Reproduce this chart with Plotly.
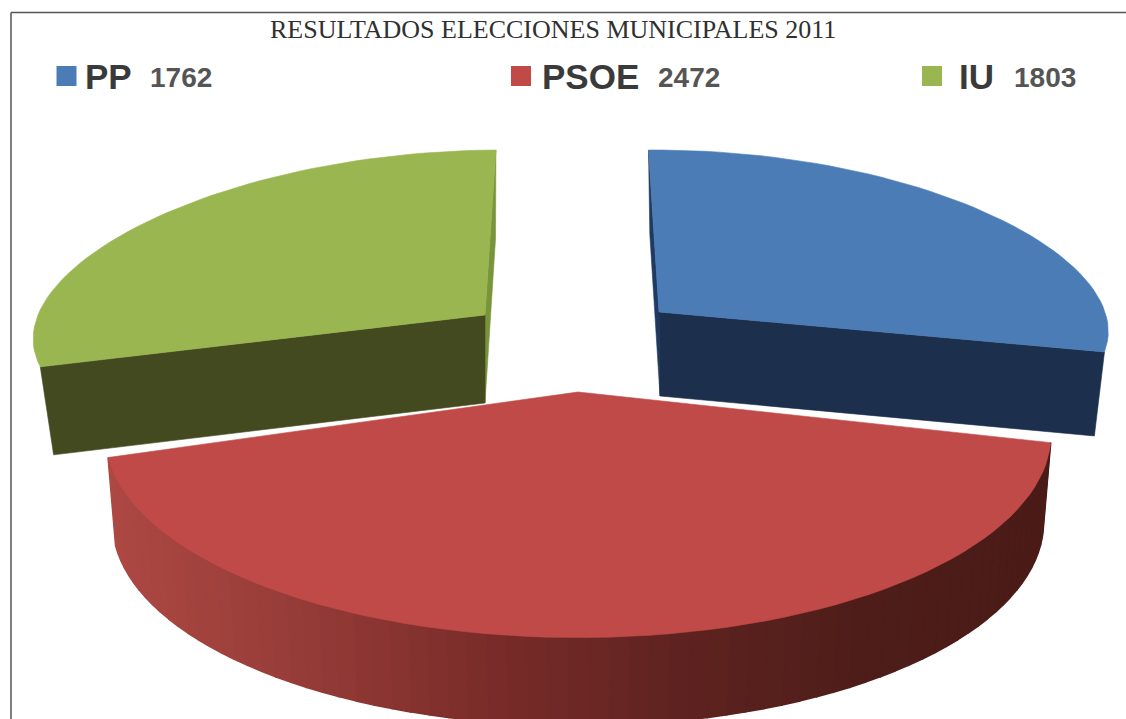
import math
import plotly.graph_objects as go

title = "RESULTADOS ELECCIONES MUNICIPALES 2011"
parties = ["PP", "PSOE", "IU"]
votes = [1762, 2472, 1803]
top_colors = ["#4c7cb6", "#bf4a47", "#9ab650"]
side_colors = ["#1c2f4c", None, "#444a20"]
inner_colors = ["#1f3a62", None, "#78953c"]
red_side_stops = ["#ad4843", "#963c38", "#7a2c29", "#5f2320", "#4e1d19", "#4a1b17"]

# drawing parameters of each pulled slice (pixels of the picture)
geom = {
    "PP":   dict(ax=659, ay=312, B=446, A=162.0, kx=0.11, ky=0.0, shear=0.03, depth=84, xc=700, f=0.025),
    "PSOE": dict(ax=578, ay=392, B=463, A=195.0, kx=0.206, ky=0.206, shear=0.0, depth=88, xc=578, f=0.016),
    "IU":   dict(ax=485, ay=315, B=447, A=165.0, kx=0.11, ky=0.0, shear=-0.10, depth=88, xc=485, f=0.03),
}
START_ANGLE = -0.8
STEP = 2.0

total = sum(votes)
fig = go.Figure()


def project(g, theta):
    t = math.radians(theta)
    u, v = math.sin(t), -math.cos(t)
    xp = g["B"] * u / (1 - g["kx"] * v)
    yp = g["A"] * v / (1 - g["ky"] * v)
    return g["ax"] + xp + g["shear"] * yp, g["ay"] + yp


def drop(g, p):
    x, y = p
    return x + (g["xc"] - x) * g["f"], y + g["depth"]


def poly(xs, ys, color, width=0.6):
    fig.add_trace(go.Scatter(x=xs, y=ys, mode="lines", fill="toself", fillcolor=color,
                             line=dict(color=color, width=width), hoverinfo="skip",
                             showlegend=False))


def mix(stops, s):
    s = max(0.0, min(1.0, s)) * (len(stops) - 1)
    i = min(int(s), len(stops) - 2)
    a, b = stops[i], stops[i + 1]
    r = s - i
    ca = [int(a[j:j + 2], 16) for j in (1, 3, 5)]
    cb = [int(b[j:j + 2], 16) for j in (1, 3, 5)]
    return "#%02x%02x%02x" % tuple(round(p + (q - p) * r) for p, q in zip(ca, cb))


# slice angles come from the vote counts
spans = {}
angle = START_ANGLE
for name, val in zip(parties, votes):
    spans[name] = (angle, angle + 360.0 * val / total)
    angle += 360.0 * val / total


def arc(g, a0, a1):
    n = max(2, int(abs(a1 - a0) / STEP))
    return [project(g, a0 + (a1 - a0) * i / n) for i in range(n + 1)]


# PP and IU: straight cut face, inner sliver, then top
for name, col_top, col_side, col_in in zip(parties, top_colors, side_colors, inner_colors):
    if name == "PSOE":
        continue
    g = geom[name]
    a0, a1 = spans[name]
    apex = (g["ax"], g["ay"])
    apex_b = drop(g, apex)
    back_angle = a0 if name == "PP" else a1
    front_angle = a1 if name == "PP" else a0
    back = project(g, back_angle)
    back_b = drop(g, back)
    front = project(g, front_angle)
    front_b = drop(g, front)
    poly([back[0], back_b[0], apex_b[0], apex[0], back[0]],
         [back[1], back_b[1], apex_b[1], apex[1], back[1]], col_in)
    poly([apex[0], front[0], front_b[0], apex_b[0], apex[0]],
         [apex[1], front[1], front_b[1], apex_b[1], apex[1]], col_side)
    pts = [apex] + arc(g, a0, a1) + [apex]
    poly([p[0] for p in pts], [p[1] for p in pts], col_top)

# PSOE: curved wall with shading, then top
g = geom["PSOE"]
a0, a1 = spans["PSOE"]
rim = arc(g, a0, a1)
xmin = min(p[0] for p in rim)
xmax = max(p[0] for p in rim)
for p, q in zip(rim[:-1], rim[1:]):
    pb, qb = drop(g, p), drop(g, q)
    shade = mix(red_side_stops, ((p[0] + q[0]) / 2 - xmin) / (xmax - xmin))
    poly([p[0], q[0], qb[0], pb[0], p[0]], [p[1], q[1], qb[1], pb[1], p[1]], shade, width=1.5)
pts = [(g["ax"], g["ay"])] + rim + [(g["ax"], g["ay"])]
poly([p[0] for p in pts], [p[1] for p in pts], top_colors[1])

# legend
legend_x = [66.5, 521, 932]
legend_label_x = [83, 540, 957]
legend_value_x = [148, 656, 1012]
LEGEND_Y = 76
fig.add_trace(go.Scatter(x=legend_x, y=[LEGEND_Y] * 3, mode="markers",
                         marker=dict(symbol="square", size=20, color=top_colors),
                         hoverinfo="skip", showlegend=False))
annotations = []
for name, val, lx, vx in zip(parties, votes, legend_label_x, legend_value_x):
    annotations.append(dict(x=lx, y=LEGEND_Y, text=f"<b>{name}</b>", showarrow=False, xanchor="left",
                            yanchor="middle", font=dict(family="Liberation Sans", size=35, color="#3a3a3a")))
    annotations.append(dict(x=vx, y=LEGEND_Y + 1, text=f"<b>{val}</b>", showarrow=False, xanchor="left",
                            yanchor="middle", font=dict(family="Liberation Sans", size=28, color="#555555")))
annotations.append(dict(x=553, y=29, text=title, showarrow=False, xanchor="center", yanchor="middle",
                        font=dict(family="Liberation Serif", size=26, color="#303030")))

frame = dict(type="line", xref="x", yref="y", line=dict(color="#555555", width=1.5))
fig.update_layout(
    width=1126, height=719, autosize=False,
    margin=dict(l=0, r=0, t=0, b=0),
    paper_bgcolor="white", plot_bgcolor="white",
    xaxis=dict(range=[0, 1126], visible=False, fixedrange=True),
    yaxis=dict(range=[719, 0], visible=False, fixedrange=True),
    annotations=annotations,
    shapes=[dict(frame, x0=11, y0=12.5, x1=1126, y1=12.5),
            dict(frame, x0=11, y0=12.5, x1=11, y1=719)],
)
fig.write_html("out.html", config=dict(displayModeBar=False),
               post_script="document.body.style.margin='0';document.body.style.overflow='hidden';")
